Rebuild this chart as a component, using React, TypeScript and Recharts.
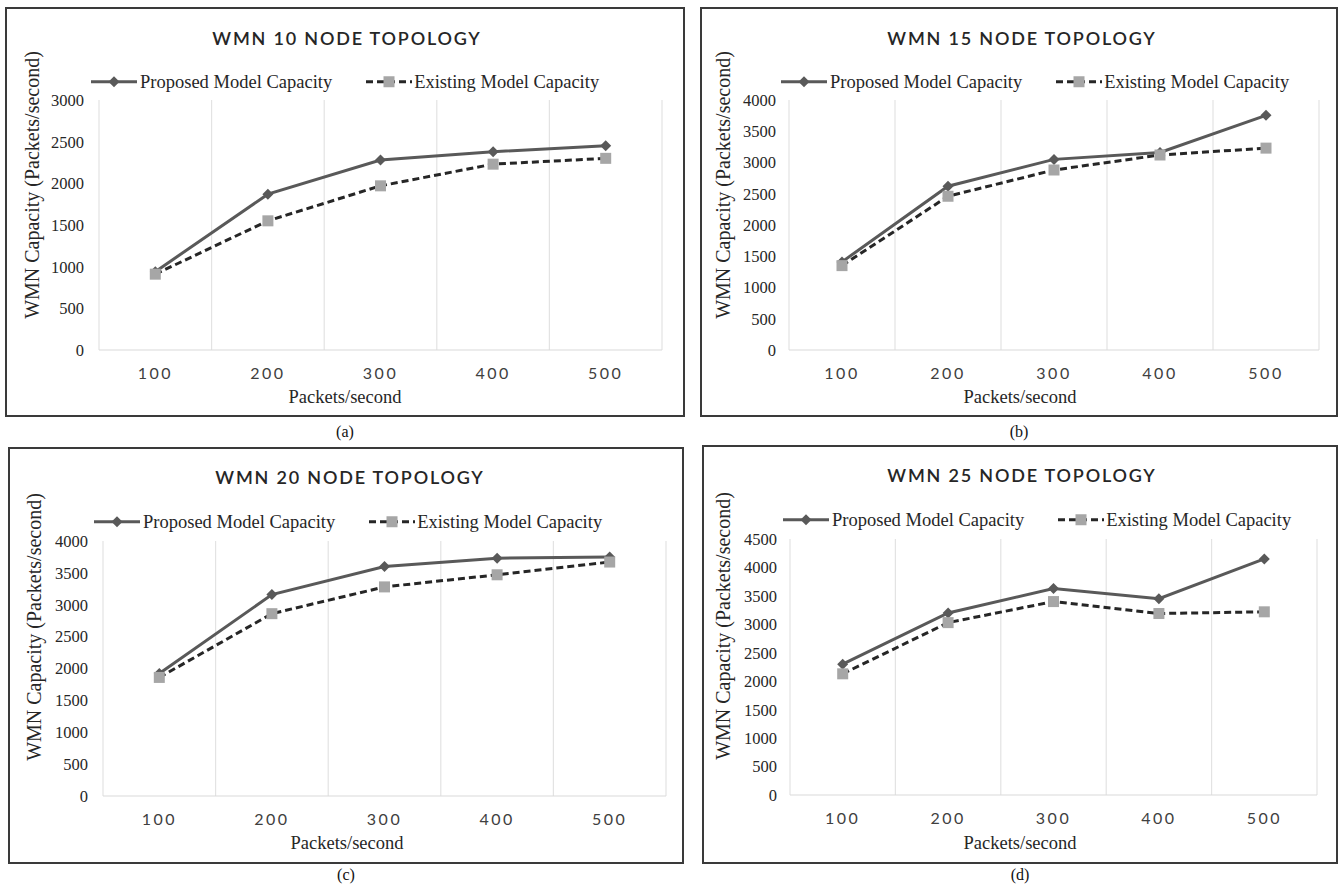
import React from "react";
import { LineChart, Line, XAxis, YAxis, CartesianGrid } from "recharts";

// packets/second on the x axis
const categories = [100, 200, 300, 400, 500];

// WMN capacity (packets/second)
const proposed10 = [940, 1870, 2280, 2380, 2450];
const existing10 = [910, 1550, 1970, 2230, 2300];
const proposed15 = [1410, 2620, 3050, 3160, 3755];
const existing15 = [1350, 2460, 2880, 3120, 3230];
const proposed20 = [1920, 3160, 3600, 3730, 3750];
const existing20 = [1860, 2860, 3280, 3470, 3670];
const proposed25 = [2300, 3200, 3630, 3450, 4150];
const existing25 = [2130, 3030, 3400, 3190, 3220];

const yTicks3000 = [0, 500, 1000, 1500, 2000, 2500, 3000];
const yTicks4000 = [0, 500, 1000, 1500, 2000, 2500, 3000, 3500, 4000];
const yTicks4500 = [0, 500, 1000, 1500, 2000, 2500, 3000, 3500, 4000, 4500];
const bandEdges = [50, 150, 250, 350, 450, 550];

const SERIF = "'Liberation Serif', 'DejaVu Serif', serif";
const SANS = "Lato, 'Open Sans', sans-serif";

const PROPOSED_COLOR = "#595959";
const EXISTING_COLOR = "#262626";
const SQUARE_COLOR = "#a6a6a6";

function Diamond(props: any) {
  const { cx, cy, index } = props;
  if (cx == null || cy == null) return null;
  const r = 5.5;
  return (
    <path
      key={`d-${index}`}
      d={`M${cx},${cy - r}L${cx + r},${cy}L${cx},${cy + r}L${cx - r},${cy}Z`}
      fill={PROPOSED_COLOR}
    />
  );
}

function Square(props: any) {
  const { cx, cy, index } = props;
  if (cx == null || cy == null) return null;
  const s = 11;
  return <rect key={`s-${index}`} x={cx - s / 2} y={cy - s / 2} width={s} height={s} fill={SQUARE_COLOR} />;
}

type Cfg = {
  title: string;
  caption: string;
  proposed: number[];
  existing: number[];
  yMax: number;
  yTicks: number[];
  box: { left: number; top: number; right: number; bottom: number };
  plot: { left: number; top: number; right: number; bottom: number };
  tickGap: number;
  titleX: number;
  titleY: number;
  legendX: number;
  legendY: number;
  yLabelX: number;
  yLabelY: number;
  xLabelX: number;
  xLabelY: number;
  captionY: number;
};

const panels: Cfg[] = [
  {
    title: "WMN 10 NODE TOPOLOGY",
    caption: "(a)",
    proposed: proposed10,
    existing: existing10,
    yMax: 3000,
    yTicks: yTicks3000,
    box: { left: 5, top: 7, right: 685, bottom: 417 },
    plot: { left: 99, top: 100, right: 662, bottom: 350 },
    tickGap: 15,
    titleX: 347,
    titleY: 38,
    legendX: 91,
    legendY: 82,
    yLabelX: 32,
    yLabelY: 185,
    xLabelX: 345,
    xLabelY: 397,
    captionY: 432,
  },
  {
    title: "WMN 15 NODE TOPOLOGY",
    caption: "(b)",
    proposed: proposed15,
    existing: existing15,
    yMax: 4000,
    yTicks: yTicks4000,
    box: { left: 700, top: 7, right: 1338, bottom: 417 },
    plot: { left: 789, top: 100, right: 1319, bottom: 350 },
    tickGap: 13,
    titleX: 1022,
    titleY: 38,
    legendX: 781,
    legendY: 82,
    yLabelX: 723,
    yLabelY: 185,
    xLabelX: 1020,
    xLabelY: 397,
    captionY: 432,
  },
  {
    title: "WMN 20 NODE TOPOLOGY",
    caption: "(c)",
    proposed: proposed20,
    existing: existing20,
    yMax: 4000,
    yTicks: yTicks4000,
    box: { left: 8, top: 447, right: 684, bottom: 864 },
    plot: { left: 103, top: 541, right: 666, bottom: 796 },
    tickGap: 15,
    titleX: 350,
    titleY: 477,
    legendX: 94,
    legendY: 522,
    yLabelX: 34,
    yLabelY: 627,
    xLabelX: 347,
    xLabelY: 843,
    captionY: 875,
  },
  {
    title: "WMN 25 NODE TOPOLOGY",
    caption: "(d)",
    proposed: proposed25,
    existing: existing25,
    yMax: 4500,
    yTicks: yTicks4500,
    box: { left: 702, top: 445, right: 1338, bottom: 864 },
    plot: { left: 790, top: 539, right: 1317, bottom: 795 },
    tickGap: 13,
    titleX: 1022,
    titleY: 475,
    legendX: 783,
    legendY: 520,
    yLabelX: 723,
    yLabelY: 626,
    xLabelX: 1020,
    xLabelY: 843,
    captionY: 875,
  },
];

const centered = (x: number, y: number): React.CSSProperties => ({
  position: "absolute",
  left: x,
  top: y,
  transform: "translate(-50%, -50%)",
  whiteSpace: "nowrap",
  lineHeight: 1,
});

function Legend({ x, y }: { x: number; y: number }) {
  const text: React.CSSProperties = { fontFamily: SERIF, fontSize: 18.5, color: "#262626" };
  return (
    <div
      style={{
        position: "absolute",
        left: x,
        top: y,
        transform: "translateY(-50%)",
        display: "flex",
        alignItems: "center",
        whiteSpace: "nowrap",
        lineHeight: 1,
      }}
    >
      <svg width={46} height={14}>
        <line x1={0} y1={7} x2={46} y2={7} stroke={PROPOSED_COLOR} strokeWidth={3} />
        <path d="M23,1.5L28.5,7L23,12.5L17.5,7Z" fill={PROPOSED_COLOR} />
      </svg>
      <span style={{ ...text, marginLeft: 3 }}>Proposed Model Capacity</span>
      <svg width={46} height={14} style={{ marginLeft: 34 }}>
        <line x1={0} y1={7} x2={46} y2={7} stroke={EXISTING_COLOR} strokeWidth={3} strokeDasharray="7 4" />
        <rect x={17.5} y={1.5} width={11} height={11} fill={SQUARE_COLOR} />
      </svg>
      <span style={{ ...text, marginLeft: 2 }}>Existing Model Capacity</span>
    </div>
  );
}

function Panel({ cfg }: { cfg: Cfg }) {
  const border = 2;
  const innerLeft = cfg.box.left + border;
  const innerTop = cfg.box.top + border;
  const w = cfg.box.right - cfg.box.left - border * 2;
  const h = cfg.box.bottom - cfg.box.top - border * 2;
  const yAxisW = 60;
  const xAxisH = 30;
  const margin = {
    top: cfg.plot.top - innerTop,
    right: innerLeft + w - cfg.plot.right,
    bottom: innerTop + h - cfg.plot.bottom - xAxisH,
    left: cfg.plot.left - innerLeft - yAxisW,
  };
  const data = categories.map((x, i) => ({ x, proposed: cfg.proposed[i], existing: cfg.existing[i] }));

  return (
    <>
      <div
        style={{
          position: "absolute",
          left: cfg.box.left,
          top: cfg.box.top,
          width: cfg.box.right - cfg.box.left,
          height: cfg.box.bottom - cfg.box.top,
          border: `${border}px solid #3a3a3a`,
          boxSizing: "border-box",
        }}
      >
        <div style={{ position: "absolute", left: 0, top: 0 }}>
          <LineChart width={w} height={h} data={data} margin={margin}>
            <CartesianGrid horizontal={false} verticalValues={bandEdges} stroke="#e3e3e3" strokeWidth={1.2} />
            <XAxis
              type="number"
              dataKey="x"
              domain={[50, 550]}
              ticks={categories}
              interval={0}
              height={xAxisH}
              tickLine={false}
              tickSize={0}
              tickMargin={18}
              axisLine={{ stroke: "#d9d9d9", strokeWidth: 1.2 }}
              tick={{ fontFamily: SANS, fontSize: 16, fill: "#404040", letterSpacing: 2.5 }}
            />
            <YAxis
              width={yAxisW}
              domain={[0, cfg.yMax]}
              ticks={cfg.yTicks}
              interval={0}
              axisLine={false}
              tickLine={false}
              tickSize={0}
              tickMargin={cfg.tickGap}
              tick={{ fontFamily: SERIF, fontSize: 16.5, fill: "#262626" }}
            />
            <Line
              type="linear"
              dataKey="proposed"
              stroke={PROPOSED_COLOR}
              strokeWidth={3}
              dot={<Diamond />}
              activeDot={false}
              isAnimationActive={false}
            />
            <Line
              type="linear"
              dataKey="existing"
              stroke={EXISTING_COLOR}
              strokeWidth={3}
              strokeDasharray="7 4"
              dot={<Square />}
              activeDot={false}
              isAnimationActive={false}
            />
          </LineChart>
        </div>
      </div>
      <div
        style={{
          ...centered(cfg.titleX, cfg.titleY),
          fontFamily: SANS,
          fontSize: 18,
          fontWeight: 600,
          letterSpacing: 1.8,
          color: "#262626",
        }}
      >
        {cfg.title}
      </div>
      <Legend x={cfg.legendX} y={cfg.legendY} />
      <div
        style={{
          ...centered(cfg.yLabelX, cfg.yLabelY),
          transform: "translate(-50%, -50%) rotate(-90deg)",
          fontFamily: SERIF,
          fontSize: 20,
          color: "#262626",
        }}
      >
        WMN Capacity (Packets/second)
      </div>
      <div style={{ ...centered(cfg.xLabelX, cfg.xLabelY), fontFamily: SERIF, fontSize: 18.5, color: "#262626" }}>
        Packets/second
      </div>
      <div
        style={{
          ...centered((cfg.box.left + cfg.box.right) / 2, cfg.captionY),
          fontFamily: SERIF,
          fontSize: 16,
          color: "#111",
        }}
      >
        {cfg.caption}
      </div>
    </>
  );
}

export default function App() {
  return (
    <div
      style={{
        position: "absolute",
        left: 0,
        top: 0,
        width: 1343,
        height: 890,
        background: "#fff",
        overflow: "hidden",
      }}
    >
      {panels.map((p) => (
        <Panel key={p.title} cfg={p} />
      ))}
    </div>
  );
}
